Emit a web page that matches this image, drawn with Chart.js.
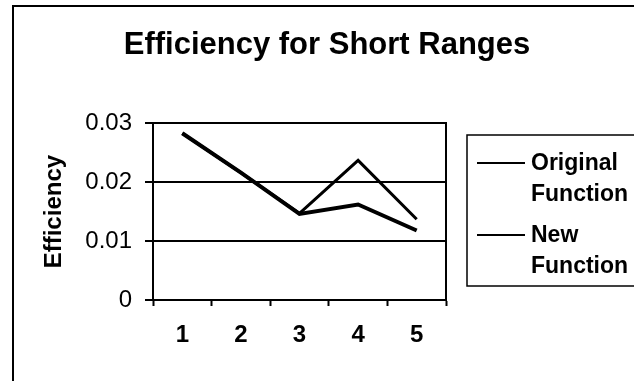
<!DOCTYPE html>
<html>
<head>
<meta charset="utf-8">
<script src="https://cdn.jsdelivr.net/npm/chart.js@4.4.0/dist/chart.umd.min.js"></script>
<style>
  body { margin: 0; background: #fff; }
  canvas { display: block; }
</style>
</head>
<body>
<canvas id="myChart" width="634" height="381"></canvas>
<script>
const ranges = ['1', '2', '3', '4', '5'];
const originalFunction = [0.0283, 0.0216, 0.0147, 0.0237, 0.0137];
const newFunction = [0.0283, 0.0216, 0.0146, 0.0162, 0.0118];
const seriesNames = ['Original Function', 'New Function'];
const yTickLabels = ['0', '0.01', '0.02', '0.03'];

const FONT = 'Arial, "Liberation Sans", sans-serif';

// outer frame and the two-line legend
const framePlugin = {
  id: 'frame',
  beforeDraw(chart) {
    const ctx = chart.ctx;
    ctx.save();
    ctx.strokeStyle = '#000';
    ctx.lineWidth = 2;
    ctx.beginPath();
    ctx.moveTo(13, chart.height);
    ctx.lineTo(13, 6);
    ctx.lineTo(chart.width, 6);
    ctx.stroke();
    ctx.restore();
  },
  afterDraw(chart) {
    const ctx = chart.ctx;
    const area = chart.chartArea;
    ctx.save();
    ctx.strokeStyle = '#000';

    // legend box
    const boxLeft = area.right + 21;
    const boxTop = 135;
    ctx.lineWidth = 1.5;
    ctx.strokeRect(boxLeft, boxTop, chart.width - boxLeft + 5, 151);

    ctx.font = 'bold 23px ' + FONT;
    ctx.fillStyle = '#000';
    ctx.textBaseline = 'middle';
    ctx.textAlign = 'left';
    chart.data.datasets.forEach((ds, i) => {
      const y = boxTop + 28 + i * 72;
      ctx.lineWidth = 2;
      ctx.beginPath();
      ctx.moveTo(boxLeft + 10, y);
      ctx.lineTo(boxLeft + 58, y);
      ctx.stroke();
      ds.label.split(' ').forEach((w, j) => {
        ctx.fillText(w, boxLeft + 64, y + 1 + j * 31);
      });
    });
    ctx.restore();
  }
};

new Chart(document.getElementById('myChart').getContext('2d'), {
  type: 'line',
  data: {
    labels: ranges,
    datasets: [{
      label: seriesNames[0],
      data: originalFunction,
      borderColor: '#000',
      borderWidth: 3,
      pointRadius: 0,
      tension: 0
    }, {
      label: seriesNames[1],
      data: newFunction,
      borderColor: '#000',
      borderWidth: 4,
      pointRadius: 0,
      tension: 0
    }]
  },
  options: {
    responsive: false,
    animation: false,
    layout: {
      padding: { left: 40, right: 20, top: 0, bottom: 0 }
    },
    plugins: {
      legend: { display: false },
      tooltip: { enabled: false },
      title: {
        display: true,
        text: 'Efficiency for Short Ranges',
        color: '#000',
        font: { family: FONT, size: 31, weight: 'bold' },
        padding: { top: 27, bottom: 59 }
      }
    },
    scales: {
      x: {
        offset: true,
        afterFit(scale) { scale.height = 81; },
        grid: {
          offset: true,
          drawOnChartArea: false,
          drawTicks: true,
          tickLength: 6,
          tickColor: '#000',
          tickWidth: 2
        },
        border: { display: true, color: '#000', width: 2 },
        ticks: {
          color: '#000',
          padding: 15,
          font: { family: FONT, size: 24, weight: 'bold' }
        }
      },
      y: {
        min: 0,
        max: 0.03,
        afterFit(scale) { scale.width = 113; },
        grid: {
          color: '#000',
          lineWidth: 2,
          drawTicks: true,
          tickLength: 8,
          tickColor: '#000'
        },
        border: { display: true, color: '#000', width: 2 },
        ticks: {
          stepSize: 0.01,
          color: '#000',
          padding: 13,
          font: { family: FONT, size: 24 },
          callback: (value, index) => yTickLabels[index]
        },
        title: {
          display: true,
          text: 'Efficiency',
          color: '#000',
          padding: 0,
          font: { family: FONT, size: 24, weight: 'bold' }
        }
      },
      // empty right-hand axis: closes the plot box and reserves room for the legend
      side: {
        position: 'right',
        afterFit(scale) { scale.width = 168; },
        grid: { display: false },
        ticks: { display: false },
        border: { display: true, color: '#000', width: 2 }
      }
    }
  },
  plugins: [framePlugin]
});
</script>
</body>
</html>
